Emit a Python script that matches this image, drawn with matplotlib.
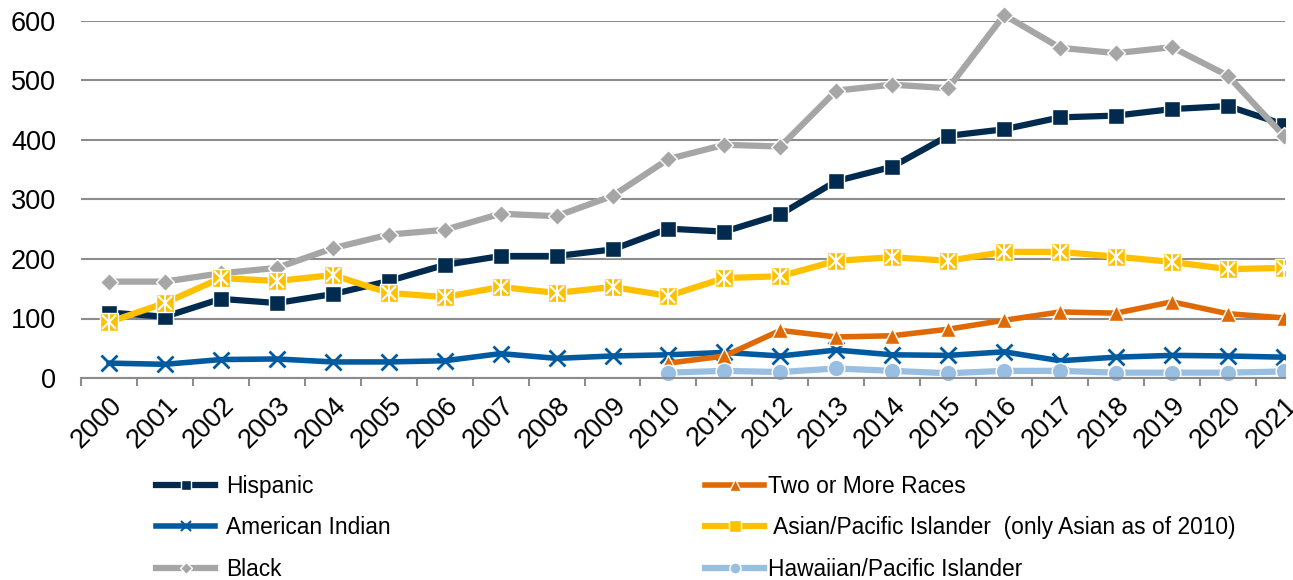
import numpy as np
import matplotlib.pyplot as plt
from matplotlib.lines import Line2D
from matplotlib.patches import Rectangle

plt.rcParams['font.family'] = ['Liberation Sans', 'DejaVu Sans']

years = [str(y) for y in range(2000, 2022)]
hispanic = [110, 103, 133, 126, 141, 163, 190, 205, 205, 216, 251, 246, 275, 331, 355,
            407, 418, 438, 441, 452, 457, 426]
am_indian = [25, 23, 31, 32, 27, 27, 29, 41, 33, 37, 39, 43, 37, 47, 39, 38, 44, 29, 35,
             38, 37, 35]
black = [162, 162, 176, 185, 218, 241, 249, 276, 272, 306, 368, 392, 389, 483, 493, 487,
         610, 555, 546, 556, 508, 407]
two_more = [None] * 10 + [25, 37, 80, 69, 71, 82, 97, 111, 109, 128, 108, 101]
asian = [94, 126, 168, 163, 173, 143, 136, 153, 143, 153, 138, 168, 171, 197, 203, 197,
         212, 212, 204, 195, 183, 185]
hawaiian = [None] * 10 + [9, 12, 10, 16, 12, 8, 12, 12, 9, 9, 9, 11]

c_his = '#002B4F'
c_ai = '#005AA0'
c_blk = '#A6A6A6'
c_two = '#DF6A05'
c_as = '#FFC000'
c_haw = '#98BFE2'

fig = plt.figure(figsize=(12.93, 5.8), dpi=100)
ax = fig.add_axes([81 / 1293, 1 - 378 / 580, (1285 - 81) / 1293, 357 / 580])

x = np.arange(len(years))


def arr(v):
    return np.array([np.nan if a is None else a for a in v], dtype=float)


clip = Rectangle((0, -0.1), 1.0, 1.3, transform=ax.transAxes)

lines = []
lines += ax.plot(x, arr(hispanic), color=c_his, lw=4.5, marker='s', ms=11,
                 mec='white', mew=1)
lines += ax.plot(x, arr(am_indian), color=c_ai, lw=4, marker='x', ms=11, mew=2)
lines += ax.plot(x, arr(black), color=c_blk, lw=4.5, marker='D', ms=9,
                 mec='white', mew=1)
lines += ax.plot(x, arr(two_more), color=c_two, lw=4, marker='^', ms=12,
                 mec='white', mew=1)
lines += ax.plot(x, arr(asian), color=c_as, lw=4.5, marker='s', ms=13,
                 mec='white', mew=1)
lines += ax.plot(x, arr(asian), ls='none', marker='x', ms=10, color='white', mew=1.5)
lines += ax.plot(x, arr(asian), ls='none', marker='|', ms=13, color='white', mew=1.5)
lines += ax.plot(x, arr(hawaiian), color=c_haw, lw=4.5, marker='o', ms=12,
                 mec='white', mew=1)
for ln in lines:
    ln.set_clip_path(clip)

ax.set_xlim(-0.48, 21.02)
ax.set_ylim(0, 600)
ax.set_yticks(range(0, 601, 100))
ax.yaxis.grid(True, color='#8C8C8C', lw=1.5)
ax.set_axisbelow(True)
for s in ['left', 'right', 'top']:
    ax.spines[s].set_visible(False)
ax.spines['bottom'].set_color('#8C8C8C')
ax.spines['bottom'].set_linewidth(1.5)
ax.tick_params(axis='y', length=0, labelsize=19.5, pad=18)
ax.set_xticks(x)
ax.set_xticklabels(years, rotation=45, ha='right', rotation_mode='anchor', fontsize=19.5)
ax.tick_params(axis='x', which='major', length=0, pad=10)
ax.set_xticks(np.arange(-0.5, 21.5, 1), minor=True)
ax.tick_params(axis='x', which='minor', length=5.5, width=1.5, color='#8C8C8C',
               direction='out')

h_his = Line2D([], [], color=c_his, lw=4.5, marker='s', ms=7, mec='white', mew=1)
h_ai = Line2D([], [], color=c_ai, lw=4, marker='x', ms=7, mew=1.5)
h_blk = Line2D([], [], color=c_blk, lw=4.5, marker='D', ms=6, mec='white', mew=1)
h_two = Line2D([], [], color=c_two, lw=4, marker='^', ms=8, mec='white', mew=1)
h_as = Line2D([], [], color=c_as, lw=4.5, marker='s', ms=8, mec='white', mew=1)
h_haw = Line2D([], [], color=c_haw, lw=4.5, marker='o', ms=8, mec='white', mew=1)

legend_kw = dict(frameon=False, fontsize=16.4, handlelength=2.6, labelspacing=0.81,
                 loc='upper left', borderaxespad=0, borderpad=0)
leg1 = fig.legend([h_his, h_ai, h_blk], ['Hispanic', 'American Indian', 'Black'],
                  bbox_to_anchor=(156 / 1293, 1 - 475 / 580), handletextpad=0.48,
                  **legend_kw)
leg2 = fig.legend([h_two, h_as, h_haw],
                  ['Two or More Races', ' Asian/Pacific Islander  (only Asian as of 2010)',
                   'Hawaiian/Pacific Islander'],
                  bbox_to_anchor=(705 / 1293, 1 - 475 / 580), handletextpad=0.18,
                  **legend_kw)

fig.savefig('out.png', dpi=100)
